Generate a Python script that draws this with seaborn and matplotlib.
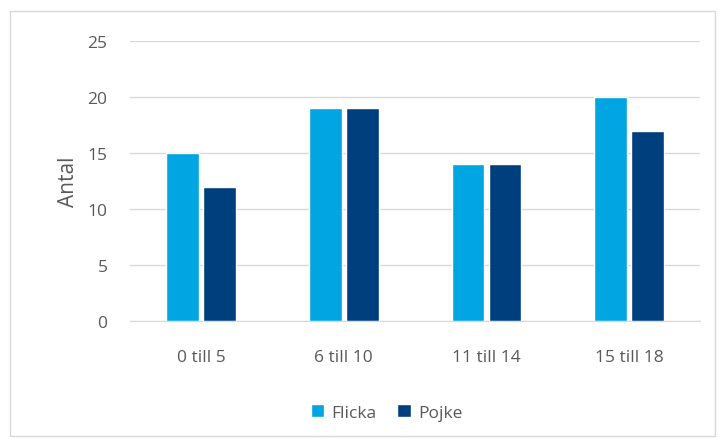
import seaborn as sns
import pandas as pd
import matplotlib.pyplot as plt
from matplotlib.patches import Rectangle

# data
age_groups = ['0 till 5', '6 till 10', '11 till 14', '15 till 18']
flicka = [15, 19, 14, 20]
pojke = [12, 19, 14, 17]

df = pd.DataFrame({
    'grupp': age_groups * 2,
    'antal': flicka + pojke,
    'kon': ['Flicka'] * 4 + ['Pojke'] * 4,
})

sns.set_style('white')
plt.rcParams['font.family'] = ['Open Sans', 'DejaVu Sans']

fig = plt.figure(figsize=(7.25, 4.39), dpi=100)
ax = fig.add_axes([0.179, 0.266, 0.787, 0.638])

sns.barplot(data=df, x='grupp', y='antal', hue='kon',
            palette=['#00A5E1', '#003F7E'], width=0.52, gap=0.12,
            saturation=1, ax=ax)

ax.set_ylim(0, 25)
ax.set_yticks(range(0, 26, 5))
ax.yaxis.grid(True, color='#D9D9D9', linewidth=1)
ax.set_axisbelow(True)
for s in ['top', 'right', 'left']:
    ax.spines[s].set_visible(False)
ax.spines['bottom'].set_color('#D9D9D9')
ax.tick_params(axis='both', length=0, labelsize=12.5, labelcolor='#595959')
ax.tick_params(axis='y', pad=16)
ax.tick_params(axis='x', pad=20)
ax.set_xlabel('')
ax.set_ylabel('Antal', fontsize=15, color='#595959', labelpad=6)

ax.legend(loc='upper center', bbox_to_anchor=(0.45, -0.24), ncol=2, frameon=False,
          fontsize=12.5, labelcolor='#595959', handlelength=0.8, handleheight=0.8,
          handletextpad=0.4, columnspacing=1.2)

fig.patches.append(Rectangle((10 / 725, 2 / 439), 705 / 725, 425 / 439,
                             transform=fig.transFigure, fill=False,
                             edgecolor='#D9D9D9', linewidth=1))

plt.savefig('out.png', dpi=100)
